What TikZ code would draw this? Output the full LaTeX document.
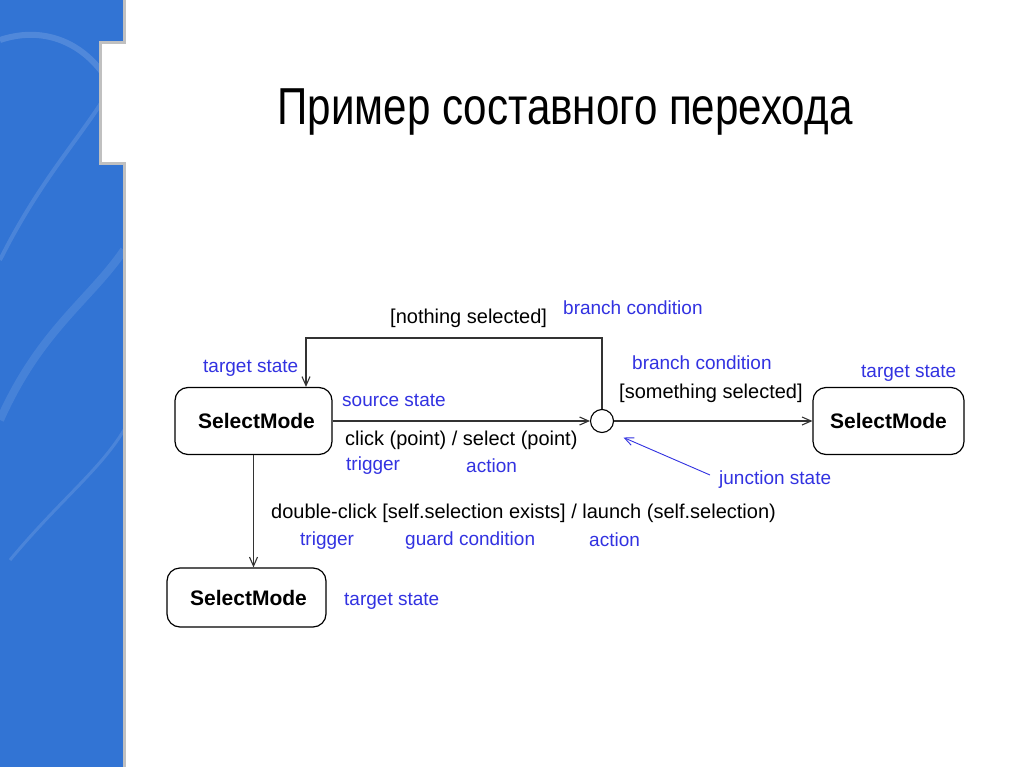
\documentclass[tikz,border=0pt]{standalone}
\usepackage{fontspec}
\setmainfont{Liberation Sans}
\usetikzlibrary{arrows.meta}

\definecolor{labelblue}{RGB}{50,50,225}
\definecolor{slideblue}{RGB}{50,116,212}
\definecolor{edgegray}{RGB}{192,192,192}

\begin{document}
\begin{tikzpicture}[x=1pt,y=-1pt]
  \tikzset{state box/.style={draw,line width=1.2pt,rounded corners=13pt,minimum width=157pt,minimum height=67pt,font=\fontsize{21}{25}\selectfont\bfseries},
    junction/.style={draw,line width=1.1pt,circle,minimum size=23pt,inner sep=0pt},
    note/.style={text=labelblue,font=\fontsize{19}{22}\selectfont,anchor=west,inner sep=0pt},
    txt/.style={font=\fontsize{20}{24}\selectfont,anchor=west,inner sep=0pt},
    trans/.style={draw=black!80,line width=1.1pt,-{Straight Barb[length=9pt,width=8pt]}}}

  \useasboundingbox (0,0) rectangle (1024,767);
  \fill[white] (0,0) rectangle (1024,767);

  % slide stripe
  \begin{scope}
    \clip (0,0) rectangle (124,767);
    \fill[slideblue] (0,0) rectangle (124,767);
    \draw[white,opacity=0.15,line width=6pt] (0,40) .. controls (60,20) and (110,60) .. (124,120);
    \draw[white,opacity=0.12,line width=4pt] (0,260) .. controls (50,160) and (100,120) .. (124,60);
    \draw[white,opacity=0.10,line width=8pt] (0,420) .. controls (40,330) and (90,300) .. (124,250);
    \draw[white,opacity=0.12,line width=3pt] (10,560) .. controls (60,500) and (100,470) .. (124,430);
  \end{scope}
  \fill[white] (100.5,42.5) rectangle (126,163.5);
  \draw[edgegray,line width=3pt] (124,0) -- (124,42.5) -- (100.5,42.5) -- (100.5,163.5) -- (124,163.5) -- (124,767);

  \node[anchor=base,font=\fontsize{52}{60}\selectfont,xscale=0.81] (title) at (565,125) {Пример составного перехода};

  % states
  \node[state box] (src) at (253.5,421) {\hspace{6pt}SelectMode};
  \node[state box,minimum width=151pt] (tgtR) at (888.5,421) {SelectMode};
  \node[state box,minimum width=159pt,minimum height=59pt] (tgtD) at (246.5,597.5) {\hspace{4pt}SelectMode};
  \node[junction] (jn) at (602,421) {};
  \coordinate (bend) at (306,338);
  \coordinate (jtail) at (710,475);

  % transitions
  \draw[trans] (src.east) -- (jn.west);
  \draw[trans] (jn.east) -- (tgtR.west);
  \draw[trans] (jn.north) |- (bend) -- (bend |- src.north);
  \draw[trans] (src.south) -- (src.south |- tgtD.north);
  \draw[labelblue,line width=0.9pt,-{Straight Barb[length=9pt,width=8pt]}] (jtail) -- ([xshift=13pt,yshift=-8pt]jn.south east);

  % labels
  \node[txt] at (390,318) {[nothing selected]};
  \node[note] at (563,308) {branch condition};
  \node[note] at (203,368) {target state};
  \node[note] at (342,400) {source state};
  \node[txt] at (345,440) {click (point) / select (point)};
  \node[note] at (346,466) {trigger};
  \node[note] at (466,466) {action};
  \node[note] at (632,363) {branch condition};
  \node[txt] at (619,393) {[something selected]};
  \node[note] at (861,373) {target state};
  \node[note] at (719,480) {junction state};
  \node[txt] at (271,513) {double-click [self.selection exists] / launch (self.selection)};
  \node[note] at (300,541) {trigger};
  \node[note] at (405,541) {guard condition};
  \node[note] at (589,540) {action};
  \node[note] at (344,601) {target state};
\end{tikzpicture}
\end{document}
